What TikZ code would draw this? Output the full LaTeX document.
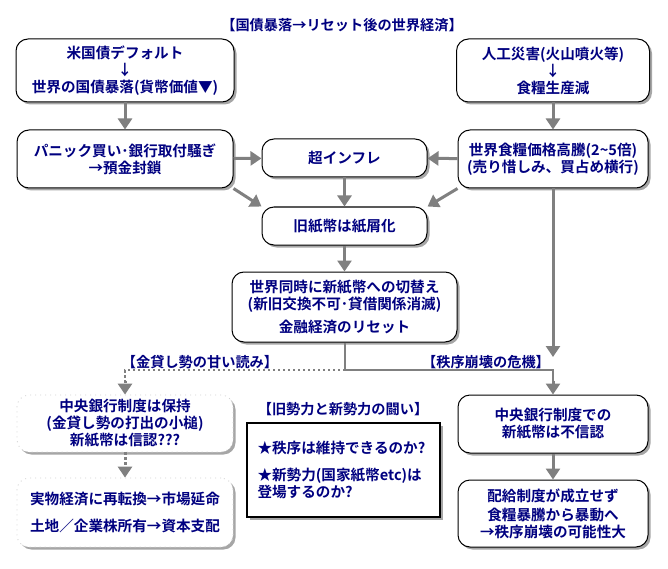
\documentclass[tikz,border=0pt]{standalone}
\usepackage{fontspec}
\setmainfont{Noto Sans CJK JP}[BoldFont={Noto Sans CJK JP Bold}]
\usepackage{xcolor}
\usepackage{tikz}
\usetikzlibrary{positioning, calc, shadows, arrows.meta}

\definecolor{navy}{RGB}{0,0,128}
\definecolor{flowgray}{RGB}{128,128,128}

\tikzset{
  box/.style = {draw, line width=1pt, rounded corners=12pt, fill=white,
    text=navy, font=\bfseries\fontsize{14.6}{17}\selectfont, align=center,
    inner sep=0pt,
    drop shadow={shadow xshift=2.5pt, shadow yshift=-2.5pt, fill=gray!70,
      opacity=1}},
  dotbox/.style = {box, draw=gray!35, loosely dotted, line width=0.8pt},
  framebox/.style = {box, rounded corners=0pt, line width=2pt},
  tag/.style = {text=navy, font=\bfseries\fontsize{14.2}{16}\selectfont,
    inner sep=0pt},
  flow/.style = {draw=flowgray, line width=3pt,
    -{Triangle[width=14pt,length=11pt]}},
  dotflow/.style = {flow, dash pattern=on 2.5pt off 2.5pt},
  branch/.style = {draw=flowgray, line width=2.5pt}
}

\begin{document}
\begin{tikzpicture}[x=1pt, y=-1pt]
    \useasboundingbox (0,0) rectangle (668,569);

    % title
    \node [tag] (title) at (342,25) {【国債暴落→リセット後の世界経済】};

    % upper row
    \node [box, minimum width=218pt, minimum height=63pt] (default)
    at (125,70.5) {米国債デフォルト\\↓\\世界の国債暴落(貨幣価値▼)};
    \node [box, minimum width=193pt, minimum height=63pt] (disaster)
    at (553,70.5) {人工災害(火山噴火等)\\↓\\食糧生産減};
    \node [box, minimum width=216pt, minimum height=58pt] (panic)
    at (125,159) {パニック買い･銀行取付騒ぎ\\→預金封鎖};
    \node [box, minimum width=165pt, minimum height=38pt] (inflation)
    at (344.5,158) {超インフレ};
    \node [box, minimum width=190pt, minimum height=58pt] (foodprice)
    at (553,159) {世界食糧価格高騰(2\textasciitilde5倍)\\(売り惜しみ、買占め横行)};

    % middle column
    \node [box, minimum width=165pt, minimum height=38pt] (oldnote)
    at (344.5,226) {旧紙幣は紙屑化};
    \node [box, minimum width=225pt, minimum height=70pt] (newnote)
    at (344.5,307) {世界同時に新紙幣への切替え\\(新旧交換不可･貸借関係消滅)\\[6pt]金融経済のリセット};

    \node [tag] (lenders) at (200,362) {【金貸し勢の甘い読み】};
    \node [tag] (collapse) at (486,362) {【秩序崩壊の危機】};
    \coordinate (split) at (345,370);
    \coordinate (foodend) at (553,357);

    % lower left
    \node [dotbox, minimum width=216pt, minimum height=57pt] (keep)
    at (125,423.5) {中央銀行制度は保持\\(金貸し勢の打出の小槌)\\新紙幣は信認???};
    \node [dotbox, minimum width=216pt, minimum height=69pt] (realecon)
    at (125,512.5) {実物経済に再転換→市場延命\\[10pt]土地／企業株所有→資本支配};

    % lower middle
    \node [tag] (fighttitle) at (343,409) {【旧勢力と新勢力の闘い】};
    \node [framebox, minimum width=193pt, minimum height=94pt, align=left,
    text width=172pt] (fight) at (343.5,470)
    {★秩序は維持できるのか?\\[10pt]★新勢力(国家紙幣etc)は\\登場するのか?};

    % lower right
    \node [box, minimum width=190pt, minimum height=58pt] (distrust)
    at (553,424) {中央銀行制度での\\新紙幣は不信認};
    \node [box, minimum width=190pt, minimum height=67pt] (ration)
    at (553,513.5) {配給制度が成立せず\\[2pt]食糧暴騰から暴動へ\\→秩序崩壊の可能性大};

    % connectors
    \draw [flow] (default) -- (panic);
    \draw [flow] (disaster) -- (foodprice);
    \draw [flow] (panic) -- (inflation);
    \draw [flow] (foodprice) -- (inflation);
    \draw [flow] (panic.south east) -- (oldnote.north west);
    \draw [flow] (foodprice.south west) -- (oldnote.north east);
    \draw [flow] (inflation) -- (oldnote);
    \draw [flow] (oldnote) -- (newnote);
    \draw [flow] (foodprice) -- (foodend);
    \draw [branch] (newnote.south -| split) -- (split);
    \draw [branch, dash pattern=on 2.5pt off 2.5pt] (split) -| ($(keep.north)+(0,-14)$);
    \draw [dotflow] ($(keep.north)+(0,-14)$) -- (keep);
    \draw [branch] (split) -| ($(distrust.north)+(0,-14)$);
    \draw [flow] ($(distrust.north)+(0,-14)$) -- (distrust);
    \draw [flow] (distrust) -- (ration);
    \draw [dotflow] (keep) -- (realecon);
\end{tikzpicture}
\end{document}
